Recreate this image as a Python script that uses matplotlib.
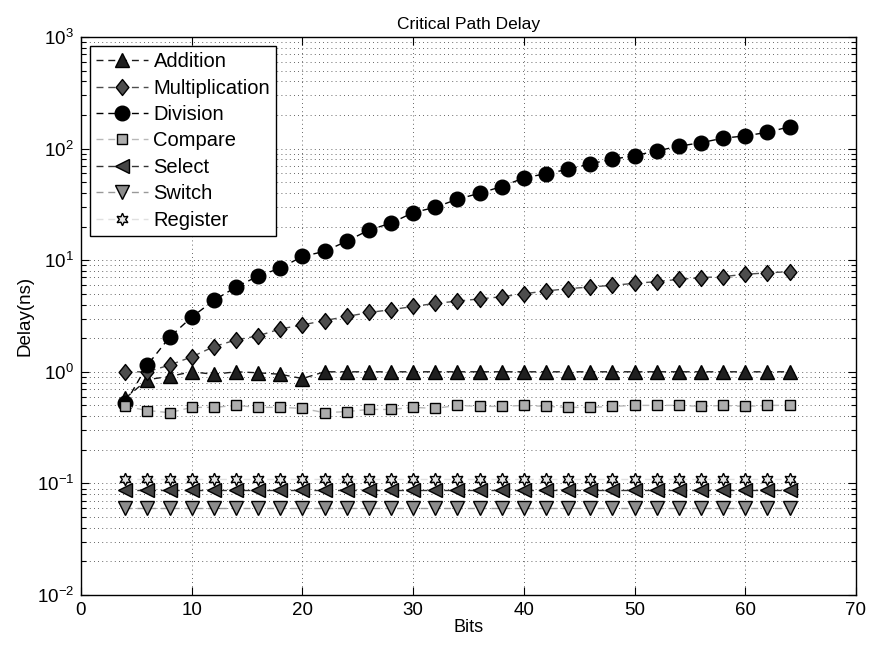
import numpy as np
import matplotlib
matplotlib.use('Agg')
import matplotlib.pyplot as plt
from matplotlib.path import Path
from matplotlib.ticker import LogLocator, NullFormatter, MultipleLocator

plt.rcParams['font.family'] = ['Liberation Sans', 'DejaVu Sans']

# largeur en bits
bits = np.arange(4, 65, 2)

# délais mesurés (ns)
addition = [0.58, 0.85, 0.91, 1.0, 0.95, 1.0, 0.98, 0.95, 0.87, 1.0, 1.0, 1.0, 1.0, 1.0, 1.0, 1.0,
            1.0, 1.0, 1.0, 1.0, 1.0, 1.0, 1.0, 1.0, 1.0, 1.0, 1.0, 1.0, 1.0, 1.0, 1.0]
multiplication = [1.0, 1.0, 1.15, 1.36, 1.68, 1.93, 2.1, 2.42, 2.63, 2.88, 3.13, 3.4, 3.6, 3.85, 4.1, 4.3,
                  4.5, 4.7, 5.0, 5.3, 5.56, 5.75, 5.96, 6.2, 6.43, 6.74, 6.98, 7.13, 7.48, 7.7, 7.9]
division = [0.52, 1.15, 2.04, 3.09, 4.36, 5.75, 7.2, 8.5, 10.8, 12.0, 14.8, 18.6, 21.5, 26.7, 29.8, 35.2,
            39.8, 45.7, 54.6, 59.6, 65.2, 73.2, 80.2, 86.5, 95.3, 105, 113, 124, 130, 140, 157]
compare = [0.49, 0.45, 0.43, 0.48, 0.48, 0.50, 0.48, 0.48, 0.47, 0.43, 0.44, 0.46, 0.46, 0.48, 0.47, 0.50,
           0.49, 0.49, 0.50, 0.49, 0.48, 0.48, 0.49, 0.50, 0.50, 0.50, 0.49, 0.50, 0.49, 0.50, 0.50]
select = [0.088] * len(bits)
switch = [0.06] * len(bits)
register = [0.11] * len(bits)

noms = ['Addition', 'Multiplication', 'Division', 'Compare', 'Select', 'Switch', 'Register']

# losange un peu plus haut que large, comme sous matlab
losange = Path([(0, 1), (0.8, 0), (0, -1), (-0.8, 0), (0, 1)],
               [Path.MOVETO, Path.LINETO, Path.LINETO, Path.LINETO, Path.CLOSEPOLY])

# (données, marqueur, taille, remplissage, couleur de ligne)
styles = [
    (addition, '^', 10, '0.12', '0.1'),
    (multiplication, losange, 11.5, '0.3', '0.3'),
    (division, 'o', 10.5, 'black', 'black'),
    (compare, 's', 7, '0.68', '0.72'),
    (select, '<', 10, '0.27', '0.2'),
    (switch, 'v', 9.5, '0.55', '0.6'),
    (register, (6, 1, 0), 9, '0.9', '0.88'),
]

fig = plt.figure(figsize=(8.69, 6.5), dpi=100)
ax = fig.add_axes([81 / 869, 55 / 650, 775 / 869, 558 / 650])

for (y, m, ms, fc, lc), nom in zip(styles, noms):
    ax.plot(bits, y, linestyle='--', dashes=(5, 3.5), color=lc, linewidth=1.0,
            marker=m, markersize=ms, markerfacecolor=fc, markeredgecolor='black',
            markeredgewidth=1.0, label=nom)

ax.set_yscale('log')
ax.set_xlim(0, 70)
ax.set_ylim(1e-2, 1e3)
ax.xaxis.set_major_locator(MultipleLocator(10))
ax.yaxis.set_major_locator(LogLocator(base=10, numticks=10))
ax.yaxis.set_minor_locator(LogLocator(base=10, subs=np.arange(2, 10), numticks=20))
ax.yaxis.set_minor_formatter(NullFormatter())

ax.grid(True, which='major', axis='both', color='0.2', linestyle=(0, (1, 4)), linewidth=0.6)
ax.grid(True, which='minor', axis='y', color='0.2', linestyle=(0, (1, 4)), linewidth=0.6)
ax.set_axisbelow(True)

ax.tick_params(which='both', direction='in', top=True, right=True, labelsize=13.5)
ax.tick_params(which='major', length=6, width=0.8, pad=5)
ax.tick_params(which='minor', length=3.5, width=0.8)
for s in ax.spines.values():
    s.set_linewidth(1.0)

ax.set_title('Critical Path Delay', fontsize=12.5, pad=6)
ax.set_xlabel('Bits', fontsize=13, labelpad=0)
ax.set_ylabel('Delay(ns)', fontsize=13.5, labelpad=2)

leg = ax.legend(loc='upper left', fontsize=14.5, frameon=True, fancybox=False,
                edgecolor='black', framealpha=1, borderaxespad=0.45,
                handlelength=2.6, handletextpad=0.25, labelspacing=0.37,
                borderpad=0.3)
leg.get_frame().set_linewidth(1.0)

fig.savefig('out.png', dpi=100)
